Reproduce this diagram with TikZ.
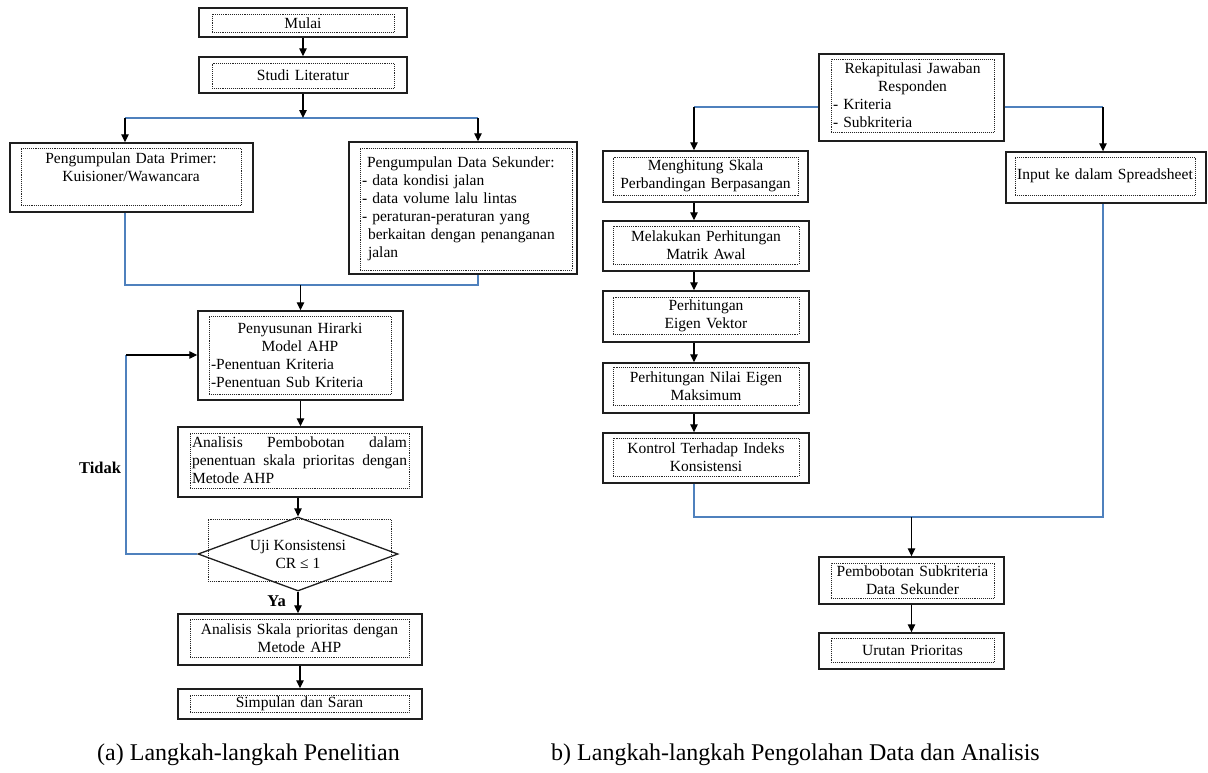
\documentclass[tikz,border=0pt]{standalone}
\usepackage{fontspec}
\setmainfont{Liberation Serif}
\usetikzlibrary{arrows.meta,shapes.geometric}

\definecolor{linkblue}{RGB}{79,129,189}
\definecolor{framegray}{RGB}{30,30,30}

% outer solid frame given by its corners
\newcommand\outerframe[5]{%
  \node[obox, minimum width={#4-#2}, minimum height={#5-#3}] (#1) at ({(#2+#4)/2},{(#3+#5)/2}) {};}
% inner dotted frame given by its corners, carrying the text
\newcommand\innerframe[7][]{%
  \node[ibox, align=center, #1, minimum width={#5-#3}, minimum height={#6-#4}, text width={#5-#3-4}] (#2) at ({(#3+#5)/2},{(#4+#6)/2}) {#7};}

\begin{document}
\begin{tikzpicture}[x=1pt,y=-1pt,
  obox/.style={draw=framegray, line width=1.4pt, inner sep=0pt},
  ibox/.style={draw=black!85, densely dotted, line width=0.9pt, inner sep=0pt,
    font=\fontsize{15.5}{18}\selectfont},
  arr/.style={draw=black, line width=1.3pt, -{Triangle[length=8pt,width=7.5pt]}},
  blueline/.style={draw=linkblue, line width=1.3pt},
  lbl/.style={font=\fontsize{16.5}{19}\selectfont\bfseries, inner sep=0pt},
  caption/.style={font=\fontsize{24}{28}\selectfont, inner sep=0pt}]

\useasboundingbox (0,0) rectangle (1208,772);

% ---------- (a) research steps ----------
\outerframe{mulai}{199}{8}{407}{37}
\innerframe{mulaiT}{212}{14}{394}{32}{Mulai}

\outerframe{studi}{199}{57}{407}{93}
\innerframe{studiT}{212}{63}{394}{88}{Studi Literatur}

\outerframe{primer}{10}{143}{253}{212}
\innerframe{primerT}{21}{148}{241}{205}{Pengumpulan Data Primer:\\Kuisioner/Wawancara\\\mbox{}}

\outerframe{sekunder}{349}{142}{577}{274}
\innerframe[align=left]{sekunderT}{360}{148}{572}{270}{\hspace*{5pt}Pengumpulan Data Sekunder:\\- data kondisi jalan\\- data volume lalu lintas\\- peraturan-peraturan yang\\\hspace*{6pt}berkaitan dengan penanganan\\\hspace*{6pt}jalan}

\outerframe{penyusunan}{198}{311}{403}{400}
\innerframe[align=left]{penyusunanT}{209}{316}{391}{394}{{\centering Penyusunan Hirarki\\Model AHP\par}-Penentuan Kriteria\\-Penentuan Sub Kriteria}

\outerframe{analisis}{178}{427}{422}{497}
\innerframe[align=justify]{analisisT}{190}{433}{409}{488}{\tolerance=10000 Analisis Pembobotan dalam \hbox{penentuan} skala prioritas dengan Metode AHP}

% decision
\node[draw=black!85, densely dotted, line width=0.9pt, minimum width=183pt, minimum height=62pt, inner sep=0pt] (ujiFrame) at (299.5,550) {};
\node[draw=framegray, line width=1.3pt, diamond, aspect=2.7, minimum width=200pt, minimum height=74pt, inner sep=0pt] (uji) at (298,554) {};
\node[font=\fontsize{15.5}{18}\selectfont, align=center, inner sep=0pt] (ujiT) at (uji) {Uji Konsistensi\\CR ≤ 1};

\outerframe{skala}{178}{614}{422}{665}
\innerframe{skalaT}{190}{619}{409}{657}{Analisis Skala prioritas dengan\\Metode AHP}

\outerframe{simpulan}{178}{689}{422}{719}
\innerframe{simpulanT}{190}{695}{409}{712}{Simpulan dan Saran}

\node[lbl] (tidak) at (100,468) {Tidak};
\node[lbl, anchor=east] (ya) at (286,601) {Ya};

% connectors (a)
\coordinate (ltop) at (125,118);
\coordinate (rtop) at (478,118);
\coordinate (lbot) at (125,285);
\coordinate (rbot) at (478,285);
\coordinate (fb) at (126,355);

\draw[arr] (mulai.south -| studi.north) -- (studi.north);
\draw[blueline] (ltop) -- (rtop);
\draw[arr] (studi.south) -- (studi.south |- ltop);
\draw[arr] (ltop) -- (ltop |- primer.north);
\draw[arr] (rtop) -- (rtop |- sekunder.north);
\draw[blueline] (lbot |- primer.south) -- (lbot) -- (rbot) -- (rbot |- sekunder.south);
\draw[arr] (penyusunan.north |- lbot) -- (penyusunan.north);
\draw[arr] (penyusunan.south) -- (penyusunan.south |- analisis.north);
\draw[arr] (analisis.south -| uji.north) -- (uji.north);
\draw[arr] (uji.south) -- (uji.south |- skala.north);
\draw[arr] (skala.south) -- (simpulan.north);
\draw[blueline] (uji.west) -- (uji.west -| fb) -- (fb);
\draw[arr] (fb) -- (fb -| penyusunan.west);

% ---------- (b) data processing steps ----------
\outerframe{rekap}{819}{54}{1004}{141}
\innerframe[align=left]{rekapT}{831}{59}{994}{132}{{\centering Rekapitulasi Jawaban\\Responden\par}- Kriteria\\- Subkriteria}

\outerframe{menghitung}{603}{151}{808}{202}
\innerframe{menghitungT}{613}{157}{798}{195}{Menghitung Skala\\Perbandingan Berpasangan}

\outerframe{melakukan}{603}{221}{809}{271}
\innerframe{melakukanT}{613}{226}{799}{264}{Melakukan Perhitungan\\Matrik Awal}

\outerframe{eigen}{603}{291}{809}{342}
\innerframe{eigenT}{613}{297}{799}{334}{Perhitungan\\Eigen Vektor}

\outerframe{nilai}{603}{363}{809}{413}
\innerframe{nilaiT}{613}{367}{799}{405}{Perhitungan Nilai Eigen\\Maksimum}

\outerframe{kontrol}{603}{433}{809}{483}
\innerframe{kontrolT}{613}{438}{799}{476}{Kontrol Terhadap Indeks\\Konsistensi}

\outerframe{input}{1006}{152}{1206}{203}
\innerframe{inputT}{1015}{157}{1195}{195}{Input ke dalam Spreadsheet}

\outerframe{pembobotan}{819}{557}{1004}{604}
\innerframe{pembobotanT}{831}{563}{994}{598}{Pembobotan Subkriteria\\Data Sekunder}

\outerframe{urutan}{819}{633}{1004}{669}
\innerframe{urutanT}{831}{638}{994}{662}{Urutan Prioritas}

% connectors (b)
\coordinate (rl) at (694,107);
\coordinate (rr) at (1103,107);
\coordinate (bl) at (694,517);
\coordinate (br) at (1103,517);

\draw[blueline] (rekap.west |- rl) -- (rl);
\draw[arr] (rl) -- (rl |- menghitung.north);
\draw[blueline] (rekap.east |- rr) -- (rr);
\draw[arr] (rr) -- (rr |- input.north);
\draw[arr] (menghitung.south -| rl) -- (melakukan.north -| rl);
\draw[arr] (melakukan.south -| rl) -- (eigen.north -| rl);
\draw[arr] (eigen.south -| rl) -- (nilai.north -| rl);
\draw[arr] (nilai.south -| rl) -- (kontrol.north -| rl);
\draw[blueline] (kontrol.south -| bl) -- (bl) -- (br) -- (input.south -| br);
\draw[arr] (pembobotan.north |- bl) -- (pembobotan.north);
\draw[arr] (pembobotan.south) -- (urutan.north);

% captions
\node[caption, anchor=west] (capA) at (97,755) {(a) Langkah-langkah Penelitian};
\node[caption, anchor=west] (capB) at (551,755) {b) Langkah-langkah Pengolahan Data dan Analisis};
\end{tikzpicture}
\end{document}
